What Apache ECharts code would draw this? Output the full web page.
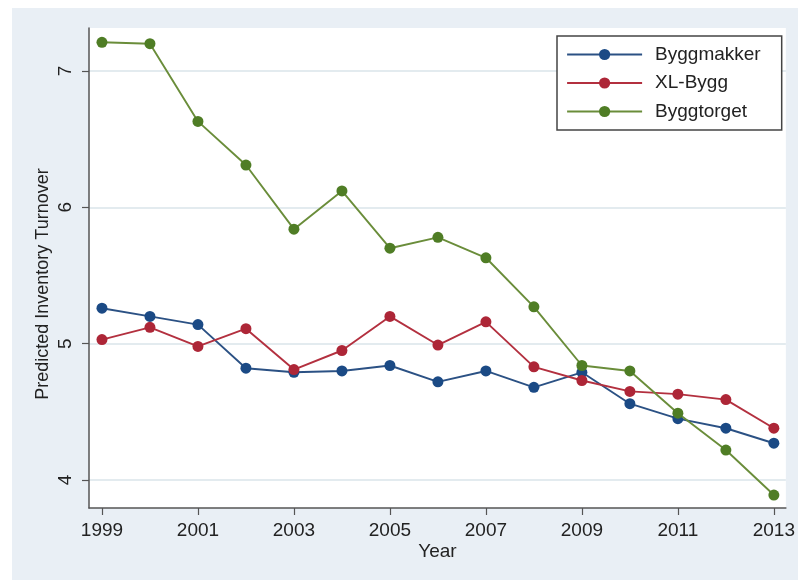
<!DOCTYPE html>
<html>
<head>
<meta charset="utf-8">
<script src="https://cdn.jsdelivr.net/npm/echarts@6/dist/echarts.min.js"></script>
<style>
  html, body { margin: 0; padding: 0; background: #ffffff; }
  #wrap { position: relative; width: 798px; height: 580px; background: #ffffff; }
  #bg { position: absolute; left: 12px; top: 8px; width: 786px; height: 572px; background: #e9eff5; }
  #chart { position: absolute; left: 0; top: 0; width: 798px; height: 580px; }
</style>
</head>
<body>
<div id="wrap"><div id="bg"></div><div id="chart"></div></div>
<script>
const years = [1999, 2000, 2001, 2002, 2003, 2004, 2005, 2006, 2007, 2008, 2009, 2010, 2011, 2012, 2013];
const byggmakker = [5.26, 5.20, 5.14, 4.82, 4.79, 4.80, 4.84, 4.72, 4.80, 4.68, 4.79, 4.56, 4.45, 4.38, 4.27];
const xlBygg = [5.03, 5.12, 4.98, 5.11, 4.81, 4.95, 5.20, 4.99, 5.16, 4.83, 4.73, 4.65, 4.63, 4.59, 4.38];
const byggtorget = [7.21, 7.20, 6.63, 6.31, 5.84, 6.12, 5.70, 5.78, 5.63, 5.27, 4.84, 4.80, 4.49, 4.22, 3.89];
const xTicks = [1999, 2001, 2003, 2005, 2007, 2009, 2011, 2013];
const yTicks = [4, 5, 6, 7];
const seriesNames = ['Byggmakker', 'XL-Bygg', 'Byggtorget'];

const font = '"Liberation Sans", Arial, sans-serif';
const pair = (vals) => years.map((y, i) => [y, vals[i]]);

const styles = [
  { line: '#2b5184', mark: '#1b4a85' },
  { line: '#b3303f', mark: '#ad2637' },
  { line: '#6a8d3a', mark: '#4f7d25' }
];
const allData = [byggmakker, xlBygg, byggtorget];

const chart = echarts.init(document.getElementById('chart'), null, { renderer: 'canvas' });
chart.setOption({
  backgroundColor: 'transparent',
  animation: false,
  grid: {
    left: 89, top: 28, right: 11, bottom: 72,
    show: true, backgroundColor: '#ffffff', borderWidth: 0
  },
  legend: {
    orient: 'vertical',
    left: 557, top: 36,
    padding: [9, 21, 9, 9],
    backgroundColor: '#ffffff',
    borderColor: '#444444',
    borderWidth: 1.5,
    itemWidth: 75,
    itemHeight: 14,
    itemGap: 9.5,
    textStyle: { fontFamily: font, fontSize: 19, color: '#222222', padding: [0, 0, 0, 8] },
    data: seriesNames.map((n, i) => ({ name: n, itemStyle: { color: styles[i].mark }, lineStyle: { color: styles[i].line, width: 2.2 } }))
  },
  xAxis: {
    type: 'value',
    min: 1998.73, max: 2013.25,
    name: 'Year',
    nameLocation: 'middle',
    nameGap: 34,
    nameMoveOverlap: false,
    nameTextStyle: { fontFamily: font, fontSize: 19, color: '#222222' },
    axisLine: { show: true, lineStyle: { color: '#555555', width: 1.5 } },
    axisTick: { show: true, length: 7, customValues: xTicks, lineStyle: { color: '#555555', width: 1.2 } },
    axisLabel: { customValues: xTicks, formatter: (v) => String(v), margin: 13, fontFamily: font, fontSize: 19, color: '#222222' },
    splitLine: { show: false }
  },
  yAxis: {
    type: 'value',
    min: 3.795, max: 7.315,
    name: 'Predicted Inventory Turnover',
    nameLocation: 'middle',
    nameGap: 37,
    nameMoveOverlap: false,
    nameRotate: 90,
    nameTextStyle: { fontFamily: font, fontSize: 18, color: '#222222', padding: [0, 32, 0, 0] },
    axisLine: { show: true, lineStyle: { color: '#555555', width: 1.5 } },
    axisTick: { show: true, length: 7, customValues: yTicks, lineStyle: { color: '#555555', width: 1.2 } },
    axisLabel: { customValues: yTicks, formatter: (v) => String(v), rotate: 90, margin: 14, fontFamily: font, fontSize: 19, color: '#222222' },
    splitLine: { show: true, lineStyle: { color: '#e3ebef', width: 2 } }
  },
  series: seriesNames.map((name, i) => ({
    name: name,
    type: 'line',
    data: pair(allData[i]),
    symbol: 'circle',
    symbolSize: 11,
    lineStyle: { color: styles[i].line, width: 1.9 },
    itemStyle: { color: styles[i].mark },
    z: 2 + i
  }))
});
</script>
</body>
</html>
